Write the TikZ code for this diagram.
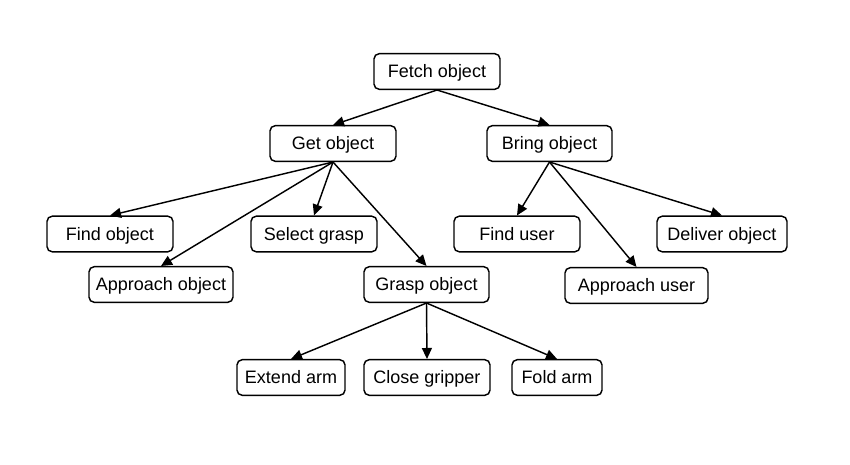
\documentclass[tikz,border=0pt]{standalone}
\usepackage{fontspec}
\setmainfont{Liberation Sans}
\usetikzlibrary{arrows.meta}
\tikzset{
  box/.style={draw, rounded corners=2.6pt, line width=0.72pt, minimum height=17.8pt,
    inner sep=0pt, text height=6.4pt, text depth=0pt,
    font=\fontsize{9pt}{10.5pt}\selectfont},
  arr/.style={-{Triangle[length=5.5pt,width=5pt]}, line width=0.72pt},
}
\begin{document}
\begin{tikzpicture}[x=0.5pt,y=-0.5pt]
\useasboundingbox (0,0) rectangle (850,465);
\node[box, minimum width=63pt] (fetch) at (437,71.5) {Fetch object};
\node[box, minimum width=63pt] (get) at (333,143.5) {Get object};
\node[box, minimum width=62.5pt] (bring) at (549.5,143.5) {Bring object};
\node[box, minimum width=63pt] (findobj) at (110,234) {Find object};
\node[box, minimum width=63pt] (select) at (314,234) {Select grasp};
\node[box, minimum width=72pt] (approbj) at (161,284.5) {Approach object};
\node[box, minimum width=62.5pt] (grasp) at (426.5,284.5) {Grasp object};
\node[box, minimum width=63pt] (finduser) at (517,234) {Find user};
\node[box, minimum width=65pt] (deliver) at (722,234) {Deliver object};
\node[box, minimum width=71.5pt] (appruser) at (636.5,285.5) {Approach user};
\node[box, minimum width=54pt] (extend) at (291,377.5) {Extend arm};
\node[box, minimum width=63pt] (close) at (427,377.5) {Close gripper};
\node[box, minimum width=45pt] (fold) at (557,377.5) {Fold arm};

\draw[arr] (fetch.south) -- (get.north);
\draw[arr] (fetch.south) -- (bring.north);
\draw[arr] (get.south) -- (findobj.north);
\draw[arr] (get.south) -- (approbj.north);
\draw[arr] (get.south) -- (select.north);
\draw[arr] (get.south) -- (grasp.north);
\draw[arr] (bring.south) -- (finduser.north);
\draw[arr] (bring.south) -- (appruser.north);
\draw[arr] (bring.south) -- (deliver.north);
\draw[arr] (grasp.south) -- (extend.north);
\draw[arr] (grasp.south) -- (close.north);
\draw[arr] (grasp.south) -- (fold.north);
\end{tikzpicture}
\end{document}
